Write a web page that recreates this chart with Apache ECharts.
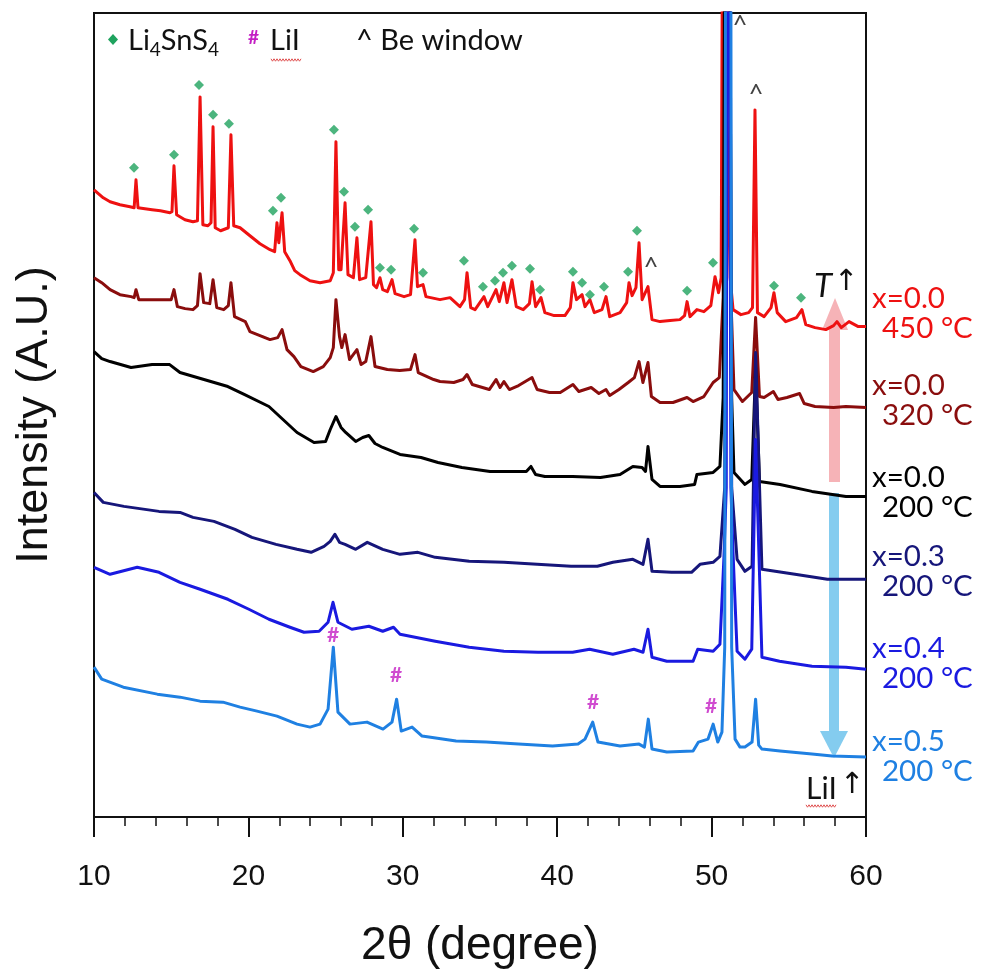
<!DOCTYPE html>
<html>
<head>
<meta charset="utf-8">
<script src="https://cdn.jsdelivr.net/npm/echarts@6/dist/echarts.min.js"></script>
<style>
  html, body { margin: 0; padding: 0; background: #fff; }
  #chart { width: 983px; height: 974px; }
</style>
</head>
<body>
<div id="chart"></div>
<script>
// XRD patterns, [2θ (deg), intensity (a.u., stacked with offsets)]
const pattern450 = [[10.0,628],[10.6,620],[11.04,616],[11.68,613],[12.33,611],[12.6,610],[12.72,638],[12.85,610],[13.3,609],[13.76,608],[14.3,607],[14.92,605],[15.05,606],[15.18,652],[15.35,603],[15.89,598],[16.41,596],[16.7,597],[16.87,721],[17.05,593],[17.38,592],[17.58,595],[17.71,691],[17.85,590],[18.2,587],[18.7,590],[18.87,683],[19.05,592],[19.46,590],[20.1,582],[20.75,574],[21.4,568],[21.7,566],[21.85,595],[21.97,575],[22.18,605],[22.35,566],[22.69,557],[23.0,547],[23.34,543],[23.99,537],[24.64,535],[25.3,537],[25.5,545],[25.67,676],[25.85,548],[26.0,548],[26.26,615],[26.45,543],[26.8,540],[27.03,580],[27.2,538],[27.6,540],[27.94,596],[28.1,533],[28.3,530],[28.52,540],[28.7,528],[29.0,526],[29.3,538],[29.5,524],[30.08,521],[30.5,523],[30.79,578],[30.95,531],[31.31,533],[31.5,521],[32.41,518],[33.06,520],[33.7,511],[34.0,518],[34.16,545],[34.4,510],[34.68,508],[35.26,521],[35.5,511],[36.04,528],[36.25,516],[36.55,535],[36.75,515],[37.07,538],[37.35,511],[37.8,508],[38.2,514],[38.37,536],[38.6,511],[38.95,520],[39.2,505],[39.8,502],[40.5,502],[40.85,510],[41.02,535],[41.25,518],[41.61,523],[41.8,511],[42.12,518],[42.4,505],[42.9,508],[43.16,521],[43.4,501],[44.07,505],[44.5,515],[44.65,535],[44.85,522],[45.1,530],[45.3,575],[45.5,518],[45.88,531],[46.14,498],[46.66,496],[47.31,497],[47.95,498],[48.25,502],[48.41,516],[48.6,501],[49.05,508],[49.5,506],[49.95,512],[50.22,541],[50.45,525],[50.62,540],[50.85,1500],[51.0,700],[51.2,540],[51.39,508],[51.9,503],[52.4,505],[52.65,510],[52.81,708],[52.97,505],[53.4,501],[53.85,510],[54.04,525],[54.25,505],[54.8,496],[55.5,500],[55.85,508],[56.1,493],[56.7,490],[57.4,488],[57.9,492],[58.12,496],[58.4,490],[58.9,496],[59.5,491],[60.0,491]];

const pattern320 = [[10.0,540],[10.5,535],[11.04,528],[11.68,523],[12.4,521],[12.6,520],[12.72,528],[12.9,518],[13.8,518],[14.6,518],[15.0,518],[15.18,528],[15.4,511],[15.9,509],[16.41,508],[16.7,512],[16.87,544],[17.1,515],[17.5,514],[17.71,538],[17.95,510],[18.4,508],[18.7,512],[18.87,535],[19.1,501],[19.8,496],[20.1,486],[21.4,478],[21.9,480],[22.18,488],[22.5,468],[22.95,461],[23.4,451],[24.2,446],[24.85,451],[25.3,460],[25.5,470],[25.67,518],[25.9,481],[26.05,470],[26.26,483],[26.55,458],[27.03,468],[27.3,453],[27.6,456],[27.94,481],[28.2,451],[29.0,448],[29.8,447],[30.5,448],[30.79,463],[31.0,445],[32.0,438],[32.41,436],[33.3,435],[33.9,438],[34.16,443],[34.5,433],[35.6,428],[36.04,438],[36.3,430],[36.55,436],[36.9,428],[37.5,432],[38.37,440],[38.7,428],[39.5,425],[40.2,425],[41.02,433],[41.4,426],[42.2,430],[42.7,424],[43.16,428],[43.4,422],[44.0,428],[44.6,435],[45.0,440],[45.3,456],[45.55,435],[45.88,455],[46.1,421],[46.66,415],[47.5,415],[48.41,420],[48.8,416],[49.5,421],[50.1,435],[50.5,440],[50.75,520],[50.95,1500],[51.25,520],[51.45,428],[52.0,416],[52.6,425],[52.85,500],[53.1,421],[53.4,420],[54.0,426],[54.3,418],[54.88,420],[55.7,424],[56.0,414],[56.7,411],[57.9,410],[58.7,411],[60.0,410]];

const pattern200 = [[10.0,466],[10.5,459],[11.04,456],[12.4,450],[13.76,453],[14.9,453],[15.57,445],[17.12,438],[18.67,431],[19.76,423],[21.33,411],[22.24,398],[23.15,385],[24.25,375],[25.0,376],[25.3,388],[25.67,401],[26.0,390],[26.3,385],[26.95,376],[27.4,380],[27.8,382],[28.2,374],[28.7,370],[29.82,363],[31.18,360],[32.28,355],[33.83,350],[35.65,346],[37.46,346],[38.0,346],[38.3,351],[38.6,343],[39.2,341],[41.0,341],[42.8,340],[44.07,343],[44.9,351],[45.5,350],[45.72,346],[45.88,371],[46.14,338],[46.66,331],[47.95,331],[48.9,333],[49.05,343],[50.1,345],[50.54,351],[50.75,420],[51.0,1500],[51.3,420],[51.45,345],[52.16,333],[52.6,338],[52.85,450],[53.1,336],[54.43,333],[56.5,326],[58.7,321],[60.0,321]];

const patternX03 = [[10.0,325],[10.6,315],[11.94,311],[14.21,306],[15.57,305],[16.41,300],[17.77,296],[19.13,288],[20.23,280],[21.79,273],[23.15,268],[24.06,265],[24.9,271],[25.3,276],[25.6,283],[25.9,275],[26.26,273],[26.95,268],[27.7,275],[28.7,268],[29.82,263],[30.98,265],[32.1,260],[34.3,256],[36.55,255],[38.7,253],[40.9,251],[42.6,251],[43.61,255],[44.9,258],[45.56,253],[45.88,278],[46.14,246],[47.4,245],[48.7,245],[49.25,253],[50.1,255],[50.54,261],[50.85,330],[51.08,1500],[51.12,1500],[51.3,330],[51.65,258],[52.16,246],[52.62,251],[52.85,465],[53.26,248],[55.4,243],[57.5,238],[60.0,238]];

const patternX04 = [[10.0,250],[11.04,243],[12.8,250],[14.21,245],[15.57,235],[16.87,228],[18.67,218],[20.03,208],[21.33,198],[22.69,190],[23.6,185],[24.58,186],[25.16,195],[25.48,215],[25.8,195],[26.7,188],[27.8,191],[28.7,186],[29.4,190],[29.82,183],[32.1,176],[34.3,170],[36.55,166],[38.76,165],[41.0,165],[42.1,168],[43.6,163],[44.97,168],[45.56,165],[45.88,188],[46.14,160],[47.1,156],[48.8,156],[49.1,168],[50.1,166],[50.54,173],[50.8,260],[50.95,330],[51.05,1500],[51.15,1500],[51.25,330],[51.4,260],[51.65,166],[52.16,158],[52.6,168],[52.85,378],[53.26,160],[54.4,156],[56.5,151],[58.7,150],[60.0,148]];

const patternX05 = [[10.0,150],[10.5,138],[11.9,130],[14.1,123],[15.57,120],[16.87,116],[18.35,115],[19.46,110],[20.56,106],[21.85,101],[23.15,93],[23.99,90],[24.64,93],[25.16,108],[25.5,170],[25.8,105],[26.58,93],[27.68,95],[28.72,88],[29.3,95],[29.6,118],[29.9,86],[30.6,90],[31.25,81],[33.45,76],[35.4,75],[37.5,73],[39.7,71],[41.35,73],[41.8,78],[42.3,95],[42.64,75],[44.07,71],[45.3,73],[45.65,70],[45.9,98],[46.14,68],[47.1,65],[48.8,66],[49.15,75],[49.77,78],[50.1,93],[50.4,75],[50.67,85],[50.85,170],[50.95,1500],[51.2,1500],[51.3,170],[51.52,78],[51.84,70],[52.16,70],[52.62,75],[52.85,118],[53.05,72],[53.26,68],[54.43,66],[56.5,63],[57.8,61],[60.0,60]];

// Li4SnS4 reflections marked above the 450 °C pattern
const li4sns4Marks = [[12.59,650],[15.18,663],[16.80,733],[17.71,703],[18.74,694],[21.59,607],[22.11,620],[25.54,688],[26.19,626],[26.90,591],[27.75,608],[28.52,550],[29.24,548],[30.73,589],[31.31,545],[33.96,557],[35.19,531],[35.97,537],[36.49,545],[37.07,552],[38.24,549],[38.89,528],[41.02,546],[41.61,535],[42.12,523],[43.03,531],[44.59,546],[45.17,587],[48.41,527],[50.09,555],[54.04,532],[55.79,520]];
// LiI reflections in the x=0.5 pattern
const liiMarks = [[25.48,182],[29.56,142],[42.32,115],[49.96,111]];
// Be window reflections
const beMarks = [[51.84,792],[52.88,723],[46.07,550]];

const xTicks = [10, 20, 30, 40, 50, 60];

const sampleLabels = [
  { name: 'x=0.0', temp: '450 °C', color: '#ee1111' },
  { name: 'x=0.0', temp: '320 °C', color: '#8a0d0d' },
  { name: 'x=0.0', temp: '200 °C', color: '#000000' },
  { name: 'x=0.3', temp: '200 °C', color: '#16167a' },
  { name: 'x=0.4', temp: '200 °C', color: '#1a1ae0' },
  { name: 'x=0.5', temp: '200 °C', color: '#1f80e2' }
];
const patterns = [pattern450, pattern320, pattern200, patternX03, patternX04, patternX05];

const chart = echarts.init(document.getElementById('chart'));

const G = { left: 94, right: 117, top: 13, bottom: 156 };
const labelTops = [300, 387, 479, 558, 650, 743];

const lineSeries = patterns.map((p, i) => ({
  type: 'line',
  data: p,
  showSymbol: false,
  symbol: 'none',
  clip: true,
  z: 3 + i,
  lineStyle: { color: sampleLabels[i].color, width: 3, join: 'round' },
  animation: false
}));

// spell-check style wavy underline
function squiggle(x0, x1, y) {
  const pts = [];
  let k = 0;
  for (let x = x0; x <= x1; x += 1.5, k++) pts.push([x, y + (k % 2 ? 1.2 : -1.2)]);
  return pts;
}

const uiFont = 'Lato, "Open Sans", sans-serif';
const axisFont = '"Liberation Sans Narrow", "Liberation Sans", Arial, sans-serif';

const graphics = [
  // temperature arrow (up)
  { type: 'rect', z: 0, shape: { x: 829, y: 326, width: 11, height: 156 }, style: { fill: '#f6b3b7' } },
  { type: 'polygon', z: 0, shape: { points: [[822, 330], [848, 330], [835, 298]] }, style: { fill: '#f6b3b7' } },
  // LiI content arrow (down)
  { type: 'rect', z: 0, shape: { x: 829, y: 493, width: 10, height: 240 }, style: { fill: '#84ccef' } },
  { type: 'polygon', z: 0, shape: { points: [[820, 731], [848, 731], [834, 758]] }, style: { fill: '#84ccef' } },
  // key
  { type: 'polygon', z: 10, shape: { points: [[113, 34], [118, 39.5], [113, 45], [108, 39.5]] }, style: { fill: '#1fa35e' } },
  { type: 'text', z: 10, left: 128, top: 26, style: {
      text: '{m|Li}{s|4}{m|SnS}{s|4}', rich: {
        m: { fontFamily: uiFont, fontSize: 29, fill: '#111', verticalAlign: 'bottom', lineHeight: 34, padding: [0, 0, 4, 0] },
        s: { fontFamily: uiFont, fontSize: 19, fill: '#111', verticalAlign: 'bottom', lineHeight: 22 }
      } } },
  { type: 'text', z: 10, left: 248, top: 28, style: { text: '#', fontFamily: uiFont, fontWeight: 'bold', fontSize: 19, fill: '#c41fc4' } },
  { type: 'text', z: 10, left: 270, top: 26, style: { text: 'LiI', fontFamily: uiFont, fontSize: 29, fill: '#111' } },
  { type: 'polyline', z: 10, shape: { points: squiggle(271, 301, 60) }, style: { stroke: '#e05050', lineWidth: 1, fill: null } },
  { type: 'text', z: 10, left: 356, top: 26, style: { text: '^ Be window', fontFamily: uiFont, fontSize: 29, fill: '#111' } },
  // arrow captions
  { type: 'text', z: 10, left: 814, top: 270, style: { text: 'T', fontFamily: uiFont, fontStyle: 'italic', fontSize: 33, fill: '#111' } },
  { type: 'text', z: 10, left: 834, top: 268, style: { text: '↑', fontFamily: '"DejaVu Sans", sans-serif', fontSize: 29, fill: '#111' } },
  { type: 'text', z: 10, left: 806, top: 774, style: { text: 'LiI', fontFamily: uiFont, fontSize: 30, fill: '#111' } },
  { type: 'text', z: 10, left: 840, top: 771, style: { text: '↑', fontFamily: '"DejaVu Sans", sans-serif', fontSize: 29, fill: '#111' } },
  { type: 'polyline', z: 10, shape: { points: squiggle(806, 836, 806) }, style: { stroke: '#e05050', lineWidth: 1, fill: null } }
];

sampleLabels.forEach((s, i) => {
  graphics.push({ type: 'text', z: 10, left: 872, top: labelTops[i] - 17,
    style: { text: s.name, fontFamily: uiFont, fontSize: 29.5, fill: s.color } });
  graphics.push({ type: 'text', z: 10, left: 882, top: labelTops[i] + 13,
    style: { text: s.temp, fontFamily: uiFont, fontSize: 29.5, fill: s.color } });
});

chart.setOption({
  animation: false,
  backgroundColor: '#ffffff',
  grid: { left: G.left, right: G.right, top: G.top, bottom: G.bottom, show: true, borderColor: '#111', borderWidth: 2, backgroundColor: 'transparent' },
  xAxis: {
    type: 'value', min: xTicks[0], max: xTicks[xTicks.length - 1], interval: 10,
    name: '2θ (degree)', nameLocation: 'middle', nameGap: 106,
    nameTextStyle: { fontFamily: axisFont, fontSize: 46, color: '#111' },
    axisLine: { show: true, onZero: false, lineStyle: { color: '#111', width: 2 } },
    axisTick: { show: true, inside: false, length: 20, lineStyle: { color: '#111', width: 2 } },
    minorTick: { show: true, splitNumber: 5, length: 9, lineStyle: { color: '#111', width: 1.5 } },
    axisLabel: { margin: 45, fontFamily: axisFont, fontSize: 30, color: '#111' },
    splitLine: { show: false }
  },
  yAxis: {
    type: 'value', min: 0, max: 805,
    name: 'Intensity (A.U.)', nameLocation: 'middle', nameGap: 37,
    nameTextStyle: { fontFamily: '"Liberation Sans", Arial, sans-serif', fontSize: 45, color: '#111' },
    axisLine: { show: true, lineStyle: { color: '#111', width: 2 } },
    axisTick: { show: false }, axisLabel: { show: false }, splitLine: { show: false }
  },
  series: lineSeries.concat([
    {
      type: 'scatter', data: li4sns4Marks, symbol: 'diamond', symbolSize: [10, 10], z: 12,
      itemStyle: { color: '#1fa35e' }, animation: false
    },
    {
      type: 'scatter', data: liiMarks, symbol: 'circle', symbolSize: 1, z: 12,
      itemStyle: { color: 'rgba(0,0,0,0)' },
      label: { show: true, position: 'inside', formatter: '#', fontFamily: uiFont, fontWeight: 'bold', fontSize: 21, color: '#c41fc4' },
      animation: false
    },
    {
      type: 'scatter', data: beMarks, symbol: 'circle', symbolSize: 1, z: 12,
      itemStyle: { color: 'rgba(0,0,0,0)' },
      label: { show: true, position: 'inside', formatter: '^', fontFamily: uiFont, fontSize: 26, color: '#111' },
      animation: false
    }
  ]),
  graphic: graphics
});
</script>
</body>
</html>
